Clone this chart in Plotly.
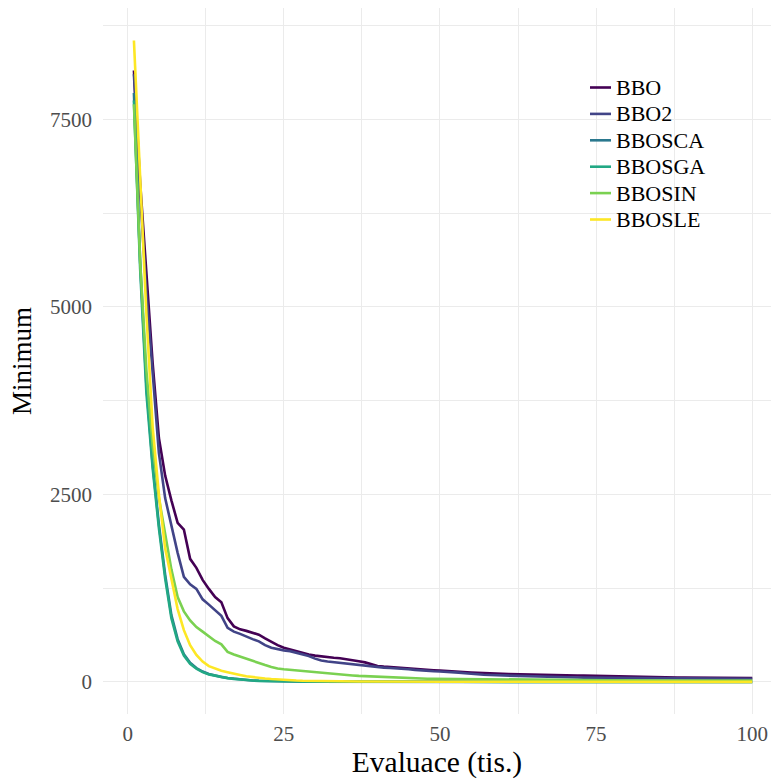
import plotly.graph_objects as go

evaluations = list(range(1, 101))

series_names = ["BBO", "BBO2", "BBOSCA", "BBOSGA", "BBOSIN", "BBOSLE"]

bbo = [8150, 6650, 5450, 4250, 3250, 2750, 2420, 2120, 2030, 1640,
       1520, 1360, 1240, 1130, 1060, 850, 740, 700, 680, 660,
       630, 580, 530, 490, 455, 430, 405, 385, 365, 350,
       338, 330, 322, 316, 305, 290, 276, 260, 235, 212,
       203, 196, 188, 182, 176, 171, 166, 160, 155, 150,
       143, 138, 134, 130, 125, 121, 116, 112, 110, 108,
       106, 105, 104, 101, 98, 96, 94, 92, 90, 89,
       87, 85, 83, 81, 79, 76, 72, 68, 66, 65,
       64, 63, 62, 61, 60, 60, 59, 58, 58, 57,
       57, 56, 56, 55, 55, 54, 54, 53, 53, 52]

bbo2 = [8100, 6500, 5200, 4150, 3050, 2450, 2080, 1720, 1400, 1300,
        1240, 1100, 1030, 960, 880, 720, 670, 640, 600, 570,
        540, 490, 455, 435, 420, 410, 390, 370, 345, 310,
        285, 272, 262, 255, 250, 238, 222, 210, 200, 195,
        190, 186, 182, 176, 168, 160, 152, 146, 142, 139,
        136, 130, 124, 116, 106, 99, 95, 91, 88, 85,
        82, 80, 78, 75, 72, 70, 68, 66, 64, 62,
        60, 58, 57, 56, 55, 53, 52, 51, 50, 49,
        48, 48, 47, 47, 46, 46, 45, 45, 44, 44,
        43, 43, 42, 42, 41, 41, 41, 40, 40, 40]

bbosca = [7850, 5600, 3950, 2900, 2100, 1430, 890, 570, 370, 255,
          185, 138, 106, 84, 65, 52, 42, 32, 25, 19,
          15, 12, 9.5, 7.5, 6.3, 5.4, 4.7, 4.1, 3.6, 3.2,
          2.9, 2.7, 2.5, 2.3, 2.2, 2.1, 2.0, 1.9, 1.8, 1.7,
          1.6, 1.6, 1.5, 1.5, 1.4, 1.4, 1.3, 1.3, 1.2, 1.2,
          1.1, 1.1, 1.1, 1.0, 1.0, 1.0, 0.9, 0.9, 0.9, 0.9,
          0.8, 0.8, 0.8, 0.8, 0.7, 0.7, 0.7, 0.7, 0.7, 0.6,
          0.6, 0.6, 0.6, 0.6, 0.6, 0.5, 0.5, 0.5, 0.5, 0.5,
          0.5, 0.5, 0.4, 0.4, 0.4, 0.4, 0.4, 0.4, 0.4, 0.4,
          0.3, 0.3, 0.3, 0.3, 0.3, 0.3, 0.3, 0.3, 0.3, 0.3]

bbosga = [7750, 5500, 3850, 2850, 2050, 1380, 850, 540, 350, 240,
          175, 130, 100, 80, 62, 50, 40, 30, 23, 18,
          14, 11, 9.0, 7.0, 6.0, 5.0, 4.5, 4.0, 3.5, 3.0,
          2.8, 2.6, 2.4, 2.2, 2.1, 2.0, 1.9, 1.8, 1.7, 1.6,
          1.5, 1.5, 1.4, 1.4, 1.3, 1.3, 1.2, 1.2, 1.1, 1.1,
          1.0, 1.0, 1.0, 0.9, 0.9, 0.9, 0.8, 0.8, 0.8, 0.8,
          0.7, 0.7, 0.7, 0.7, 0.6, 0.6, 0.6, 0.6, 0.6, 0.5,
          0.5, 0.5, 0.5, 0.5, 0.5, 0.4, 0.4, 0.4, 0.4, 0.4,
          0.4, 0.4, 0.3, 0.3, 0.3, 0.3, 0.3, 0.3, 0.3, 0.3,
          0.2, 0.2, 0.2, 0.2, 0.2, 0.2, 0.2, 0.2, 0.2, 0.2]

bbosin = [7700, 5600, 4150, 3150, 2450, 1950, 1500, 1130, 940, 820,
          730, 670, 610, 545, 500, 400, 365, 335, 315, 285,
          245, 225, 200, 178, 168, 160, 152, 146, 140, 128,
          118, 112, 105, 98, 92, 86, 80, 76, 72, 67,
          62, 58, 54, 51, 48, 46, 44, 42, 41, 40,
          39, 38, 36, 35, 33, 32, 31, 30, 29, 28,
          28, 27, 27, 26, 26, 26, 25, 25, 25, 24,
          24, 24, 23, 23, 23, 22, 22, 22, 21, 21,
          21, 21, 20, 20, 20, 20, 19, 19, 19, 19,
          19, 18, 18, 18, 18, 18, 18, 17, 17, 17]

bbosle = [8550, 6650, 4900, 3400, 2500, 1780, 1370, 970, 690, 490,
          360, 270, 210, 175, 150, 130, 115, 92, 75, 63,
          52, 45, 38, 31, 25, 21, 18, 15, 13, 11,
          10, 9, 8, 7, 6, 6, 5, 5, 4, 4,
          3.8, 3.6, 3.4, 3.2, 3.0, 2.9, 2.8, 2.7, 2.6, 2.5,
          2.4, 2.3, 2.2, 2.1, 2.0, 2.0, 1.9, 1.9, 1.8, 1.8,
          1.7, 1.7, 1.6, 1.6, 1.5, 1.5, 1.5, 1.4, 1.4, 1.4,
          1.3, 1.3, 1.3, 1.2, 1.2, 1.2, 1.2, 1.1, 1.1, 1.1,
          1.1, 1.0, 1.0, 1.0, 1.0, 1.0, 0.9, 0.9, 0.9, 0.9,
          0.9, 0.9, 0.8, 0.8, 0.8, 0.8, 0.8, 0.8, 0.8, 0.8]

series_values = [bbo, bbo2, bbosca, bbosga, bbosin, bbosle]
series_colors = ["#440154", "#414487", "#2A788E", "#22A884", "#7AD151", "#FDE725"]

x_tick_values = [0, 25, 50, 75, 100]
x_tick_labels = ["0", "25", "50", "75", "100"]
x_minor_values = [12.5, 37.5, 62.5, 87.5]
y_tick_values = [0, 2500, 5000, 7500]
y_tick_labels = ["0", "2500", "5000", "7500"]
y_minor_values = [1250, 3750, 6250, 8750]

W, H = 771, 780
ML, MR, MT, MB = 103, 0, 8, 66
PW, PH = W - ML - MR, H - MT - MB

def px_to_paper_x(px):
    return (px - ML) / PW

def px_to_paper_y(py):
    return (H - MB - py) / PH

fig = go.Figure()
for name, vals, col in zip(series_names, series_values, series_colors):
    fig.add_trace(go.Scatter(x=evaluations, y=vals, mode="lines", name=name,
                             line=dict(color=col, width=2.6), showlegend=False))

# legend drawn as shapes + text (ggplot-like key layout)
leg_top, leg_gap = 87.5, 26.4
key_x0, key_x1, text_x = 590, 611, 614
shapes = []
annotations = []
for i, (name, col) in enumerate(zip(series_names, series_colors)):
    yc = px_to_paper_y(leg_top + i * leg_gap)
    shapes.append(dict(type="line", xref="paper", yref="paper",
                       x0=px_to_paper_x(key_x0), x1=px_to_paper_x(key_x1), y0=yc, y1=yc,
                       line=dict(color=col, width=2.6)))
    annotations.append(dict(text=name, xref="paper", yref="paper", x=px_to_paper_x(text_x), y=yc,
                            xanchor="left", yanchor="middle", showarrow=False,
                            font=dict(size=22, color="black", family="Liberation Serif")))

grid_col = "#EBEBEB"
fig.update_layout(
    width=W, height=H,
    margin=dict(l=ML, r=MR, t=MT, b=MB, autoexpand=False),
    paper_bgcolor="white", plot_bgcolor="white",
    font=dict(family="Liberation Serif", color="black"),
    showlegend=False,
    shapes=shapes, annotations=annotations,
    xaxis=dict(
        range=[-3.95, 103.0], tickmode="array", tickvals=x_tick_values, ticktext=x_tick_labels,
        showgrid=True, gridcolor=grid_col, gridwidth=1.2, zeroline=False, showline=False,
        ticks="", tickfont=dict(size=21, color="#4D4D4D"), ticklabelstandoff=5,
        minor=dict(tickmode="array", tickvals=x_minor_values, showgrid=True,
                   gridcolor=grid_col, gridwidth=0.7),
        title=dict(text="Evaluace (tis.)", font=dict(size=29.5, color="black"), standoff=4),
        automargin=False,
    ),
    yaxis=dict(
        range=[-428, 8983], tickmode="array", tickvals=y_tick_values, ticktext=y_tick_labels,
        showgrid=True, gridcolor=grid_col, gridwidth=1.2, zeroline=False, showline=False,
        ticks="", tickfont=dict(size=21, color="#4D4D4D"), ticklabelstandoff=10,
        minor=dict(tickmode="array", tickvals=y_minor_values, showgrid=True,
                   gridcolor=grid_col, gridwidth=0.7),
        title=dict(text="Minimum", font=dict(size=27, color="black"), standoff=10),
        automargin=False,
    ),
)

fig.write_html("out.html")
